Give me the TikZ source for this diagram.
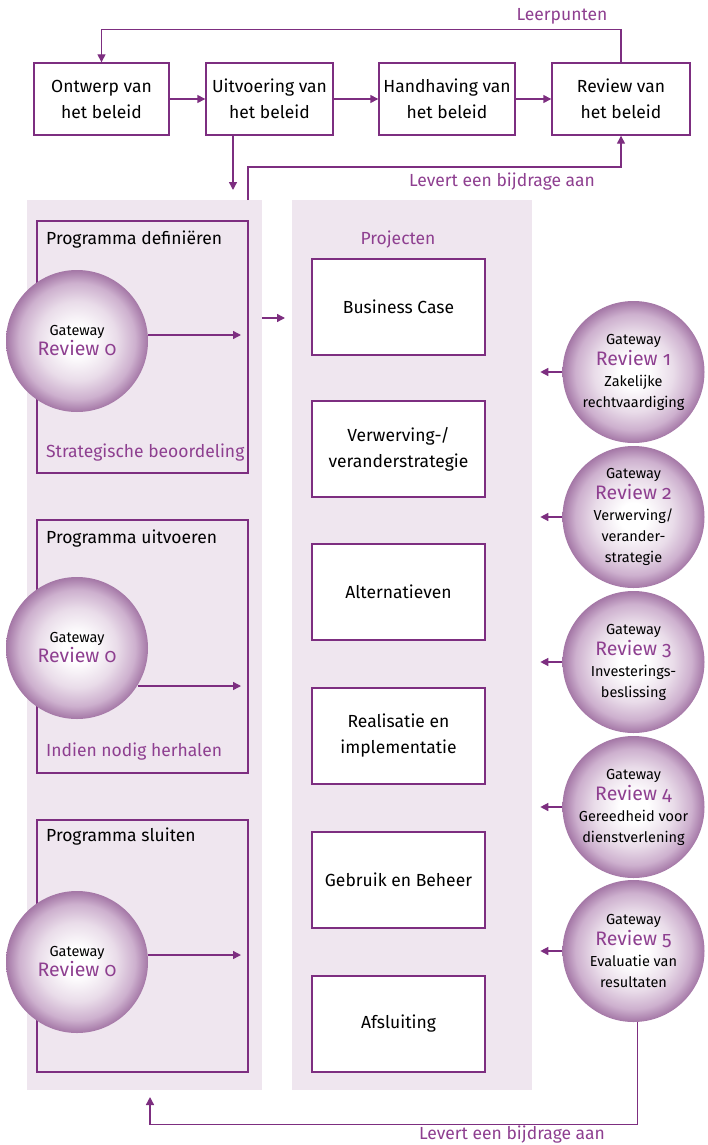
\documentclass[tikz,border=0pt]{standalone}
\usepackage{fontspec}
\setmainfont[Numbers=OldStyle]{Fira Sans}
\usetikzlibrary{arrows.meta,calc}
\definecolor{purp}{HTML}{7D2E80}
\definecolor{ptext}{HTML}{8E3F90}
\definecolor{panel}{HTML}{EFE6EF}
\definecolor{cedge}{HTML}{A477A6}
\definecolor{cmid}{HTML}{CDB0CE}
\definecolor{clight}{HTML}{E9DCE9}
\pgfdeclareradialshading{gwshade}{\pgfpoint{0bp}{0bp}}{color(0bp)=(white); color(5bp)=(white); color(14bp)=(clight); color(20.5bp)=(cmid); color(25bp)=(cedge); color(50bp)=(cedge)}
\tikzset{
  line/.style={draw=purp, line width=1.4pt},
  arr/.style={line, -{Triangle[length=8pt,width=8pt]}},
  topbox/.style={draw=purp, line width=1.4pt, fill=white, minimum width=#1, minimum height=72pt, align=center, font=\fontsize{17.5}{26}\selectfont, inner sep=0pt},
  projbox/.style={draw=purp, line width=1.4pt, fill=white, minimum width=173pt, minimum height=96pt, align=center, font=\fontsize{17.5}{26}\selectfont, inner sep=0pt},
  progbox/.style={draw=purp, line width=1.4pt, minimum width=211pt, minimum height=#1, inner sep=0pt},
  panelbox/.style={fill=panel, draw=none, minimum width=#1, minimum height=890pt, inner sep=0pt},
  gw/.style={circle, shading=gwshade, minimum size=142pt, inner sep=0pt, align=center, font=\fontsize{14.5}{21}\selectfont},
  ptxt/.style={text=ptext, font=\fontsize{17.5}{20}\selectfont, inner sep=0pt},
  btxt/.style={text=black, font=\fontsize{17.5}{20}\selectfont, inner sep=0pt},
}
\newcommand{\gwsmall}{\fontsize{14.5}{21}\selectfont}
\newcommand{\gwbig}{\fontsize{19.5}{21}\selectfont\color{ptext}}
\begin{document}
\begin{tikzpicture}[x=1pt,y=-1pt]
\useasboundingbox (0,0) rectangle (707,1145);
% top row
\node[topbox=135pt] (b1) at (101.5,99) {Ontwerp van\\het beleid};
\node[topbox=127pt] (b2) at (269.5,99) {Uitvoering van\\het beleid};
\node[topbox=136pt] (b3) at (447,99) {Handhaving van\\het beleid};
\node[topbox=138pt] (b4) at (621,99) {Review van\\het beleid};
\draw[arr] (b1) -- (b2);
\draw[arr] (b2) -- (b3);
\draw[arr] (b3) -- (b4);
\draw[arr] (b4.north) -- ++(0,-33) -| (b1.north);
\node[ptxt] (tlp) at (562,16) {Leerpunten};
% panels
\node[panelbox=235pt] (lp) at (144.5,645) {};
\node[panelbox=240pt] (mp) at (412,645) {};
\coordinate (d1) at (233,190);
\draw[arr] (b2.south -| d1) -- (d1);
\coordinate (lv) at (248,200);
\draw[arr] (lv) -- ++(0,-33) -| (b4.south);
\node[ptxt] (tlv) at (502,182) {Levert een bijdrage aan};
% program boxes
\node[progbox=252pt] (pa) at (142.5,347) {};
\node[progbox=253pt] (pb) at (142.5,646.5) {};
\node[progbox=252pt] (pc) at (142.5,946) {};
\node[btxt, anchor=west] (ta) at (46,240) {Programma definiëren};
\node[ptxt, anchor=west] (sa) at (46,453) {Strategische beoordeling};
\node[btxt, anchor=west] (tb) at (46,539) {Programma uitvoeren};
\node[ptxt, anchor=west] (sb) at (46,752) {Indien nodig herhalen};
\node[btxt, anchor=west] (tc) at (46,837) {Programma sluiten};
% left circles
\node[gw] (ga) at (77,341) {{\gwsmall Gateway}\\[-1pt]{\gwbig Review 0}};
\node[gw] (gb) at (77,648) {{\gwsmall Gateway}\\[-1pt]{\gwbig Review 0}};
\node[gw] (gc) at (77,962) {{\gwsmall Gateway}\\[-1pt]{\gwbig Review 0}};
\coordinate (ea) at (241,335);
\coordinate (eb) at (241,686);
\coordinate (ec) at (241,955);
\coordinate (sb0) at (138,686);
\draw[arr] (ga.east |- ea) -- (ea);
\draw[arr] (sb0) -- (eb);
\draw[arr] (gc.east |- ec) -- (ec);
% arrow between panels
\coordinate (mpin) at (285,318);
\draw[arr] (lp.east |- mpin) -- (mpin);
% projects
\node[ptxt] (tpj) at (398,240) {Projecten};
\node[projbox] (j1) at (398.5,307) {Business Case};
\node[projbox] (j2) at (398.5,449) {Verwerving-/\\veranderstrategie};
\node[projbox] (j3) at (398.5,592) {Alternatieven};
\node[projbox] (j4) at (398.5,736) {Realisatie en\\implementatie};
\node[projbox] (j5) at (398.5,880) {Gebruik en Beheer};
\node[projbox] (j6) at (398.5,1024) {Afsluiting};
% right circles
\node[gw] (r1) at (633.5,372) {{\gwsmall Gateway}\\{\gwbig Review 1}\\{\gwsmall Zakelijke}\\{\gwsmall rechtvaardiging}};
\node[gw] (r2) at (633.5,517) {{\gwsmall Gateway}\\{\gwbig Review 2}\\{\gwsmall Verwerving/}\\{\gwsmall verander-}\\{\gwsmall strategie}};
\node[gw] (r3) at (633.5,662) {{\gwsmall Gateway}\\{\gwbig Review 3}\\{\gwsmall Investerings-}\\{\gwsmall beslissing}};
\node[gw] (r4) at (633.5,807) {{\gwsmall Gateway}\\{\gwbig Review 4}\\{\gwsmall Gereedheid voor}\\{\gwsmall dienstverlening}};
\node[gw] (r5) at (633.5,951) {{\gwsmall Gateway}\\{\gwbig Review 5}\\{\gwsmall Evaluatie van}\\{\gwsmall resultaten}};
\foreach \r in {r1,r2,r3,r4,r5}{
  \draw[arr] (\r.west) -- ++(-22,0);
}
% bottom feedback
\coordinate (bt) at (150,1097);
\draw[arr] ([xshift=4pt]r5.south) -- ++(0,102) -| (bt);
\node[ptxt] (tbl) at (512,1135) {Levert een bijdrage aan};
\end{tikzpicture}
\end{document}
